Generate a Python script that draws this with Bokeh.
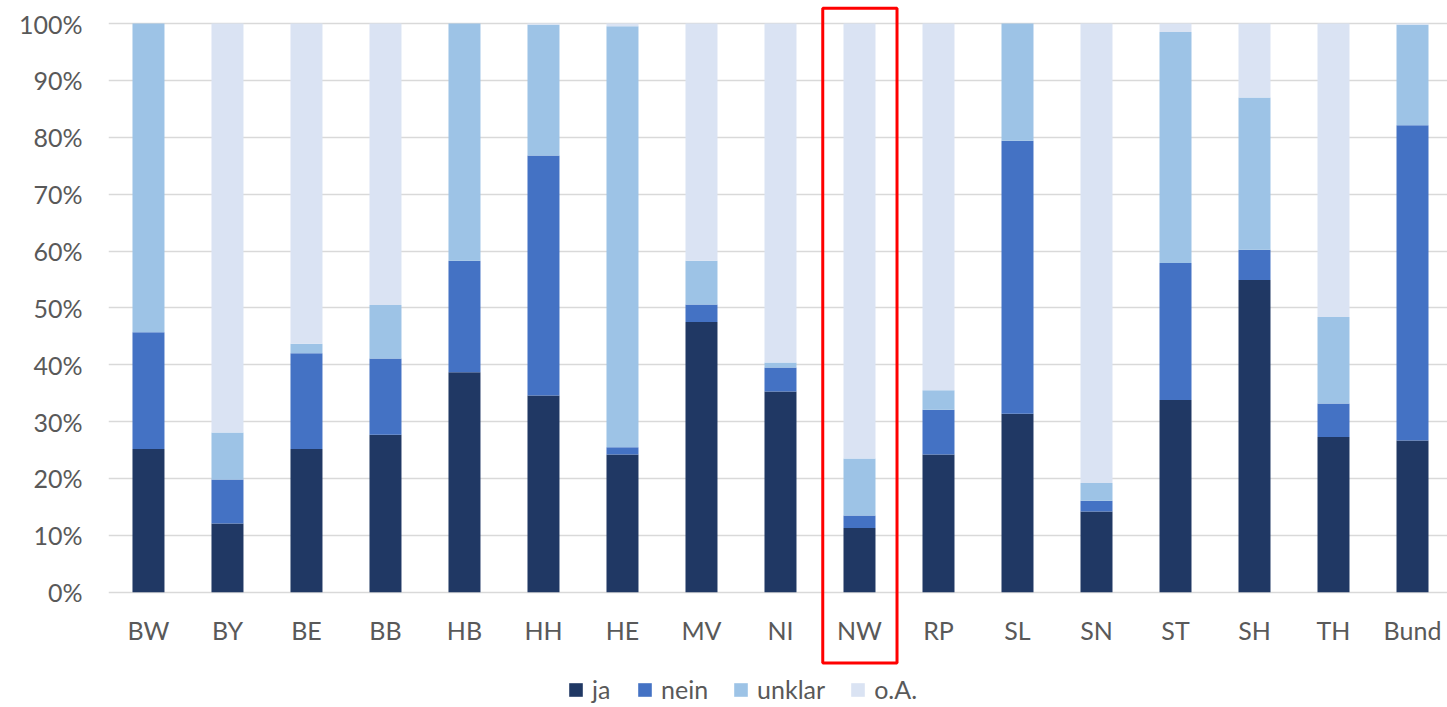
from bokeh.plotting import figure
from bokeh.models import ColumnDataSource, Range1d, FixedTicker, Legend, LegendItem, BoxAnnotation
from bokeh.embed import file_html
from bokeh.resources import INLINE

states = ["BW", "BY", "BE", "BB", "HB", "HH", "HE", "MV", "NI", "NW",
          "RP", "SL", "SN", "ST", "SH", "TH", "Bund"]
ja = [25.2, 12.1, 25.2, 27.7, 38.7, 34.6, 24.2, 47.5, 35.3, 11.3, 24.2, 31.4, 14.2, 33.8, 54.9, 27.3, 26.7]
nein = [20.5, 7.7, 16.8, 13.4, 19.6, 42.2, 1.3, 3.1, 4.2, 2.2, 7.9, 48.0, 1.9, 24.1, 5.3, 5.9, 55.4]
unklar = [54.3, 8.3, 1.7, 9.4, 41.7, 23.0, 74.0, 7.7, 0.9, 10.0, 3.4, 20.6, 3.1, 40.6, 26.8, 15.2, 17.7]
oA = [0.0, 71.9, 56.3, 49.5, 0.0, 0.2, 0.5, 41.7, 59.6, 76.5, 64.5, 0.0, 80.8, 1.5, 13.0, 51.6, 0.2]
series = ["ja", "nein", "unklar", "o.A."]
colors = ["#203864", "#4472C4", "#9DC3E6", "#DAE3F3"]
y_ticks = [0, 10, 20, 30, 40, 50, 60, 70, 80, 90, 100]
highlight = "NW"

FONT = "Lato"
TXT = "#595959"

xs = list(range(len(states)))
src = ColumnDataSource(dict(x=xs, ja=ja, nein=nein, unklar=unklar, oA=oA))

# frame spans the full lower area so that the highlight frame and legend are not clipped;
# the value axis still maps 0%..100% onto the same pixels as the reference
p = figure(width=1447, height=707, output_backend="svg", toolbar_location=None,
           x_range=Range1d(-0.506, 16.443), y_range=Range1d(-20.27, 103.17),
           min_border_top=5, min_border_left=108, min_border_right=0, min_border_bottom=0)
p.outline_line_color = None

rs = p.vbar_stack(["ja", "nein", "unklar", "oA"], x="x", width=0.405, source=src,
                  color=colors, line_color=None)

p.xaxis.ticker = FixedTicker(ticks=xs)
p.xaxis.major_label_overrides = {i: s for i, s in enumerate(states)}
p.xaxis.fixed_location = 0
p.yaxis.ticker = FixedTicker(ticks=y_ticks)
p.yaxis.major_label_overrides = {t: f"{t}%" for t in y_ticks}

for ax in (p.xaxis[0], p.yaxis[0]):
    ax.axis_line_color = None
    ax.major_tick_line_color = None
    ax.minor_tick_line_color = None
    ax.major_tick_out = 0
    ax.major_tick_in = 0
    ax.major_label_text_font = FONT
    ax.major_label_text_font_size = "25px"
    ax.major_label_text_color = TXT
p.xaxis.major_label_standoff = 23
p.yaxis.major_label_standoff = 26

p.xgrid.grid_line_color = None
p.ygrid.grid_line_color = "#D9D9D9"
p.ygrid.grid_line_width = 1.3
p.ygrid.ticker = FixedTicker(ticks=y_ticks)

legend = Legend(items=[LegendItem(label=s, renderers=[r]) for s, r in zip(series, rs)],
                orientation="horizontal", location=(459, 3),
                glyph_width=17, glyph_height=17, label_standoff=8, spacing=24,
                padding=0, margin=0, border_line_color=None, background_fill_alpha=0,
                label_text_font=FONT, label_text_font_size="25px", label_text_color=TXT)
p.add_layout(legend, "center")

hi = states.index(highlight)
box = BoxAnnotation(left=hi - 0.465, right=hi + 0.475, top=102.7, bottom=-12.45,
                    fill_alpha=0, line_color="#FF0000", line_alpha=1, line_width=3)
p.add_layout(box)

open("out.html", "w").write(file_html(p, INLINE))
